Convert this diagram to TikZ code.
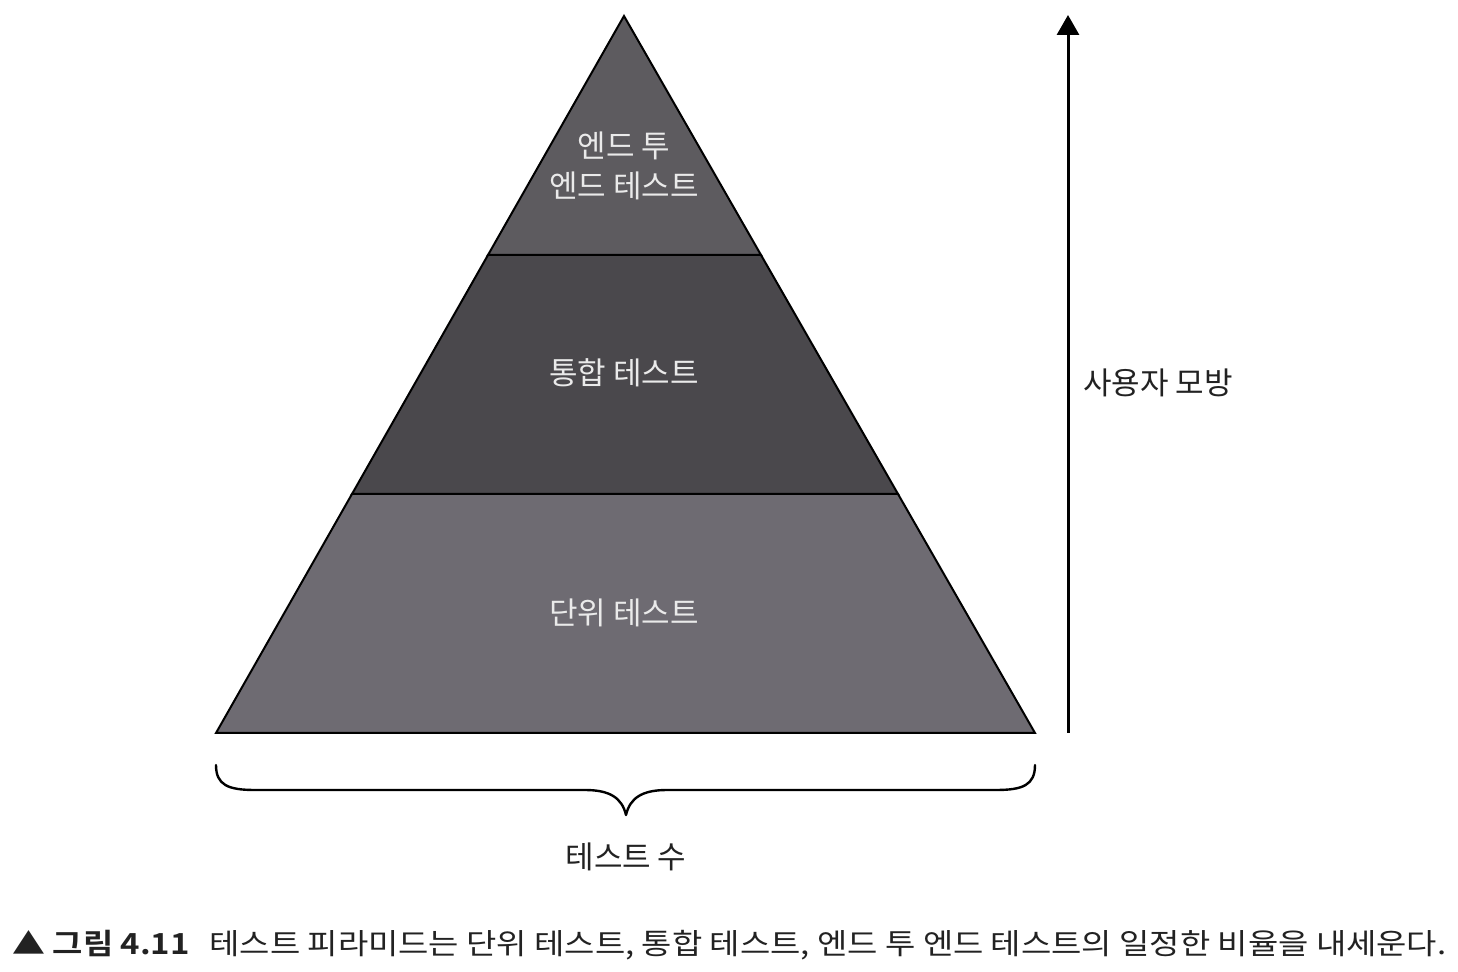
\documentclass[tikz,border=0pt]{standalone}
\usepackage{fontspec}
\setmainfont{Noto Sans CJK KR}[BoldFont={Noto Sans CJK KR Bold}]
\usetikzlibrary{arrows.meta}
\definecolor{tiertop}{HTML}{5D5B5F}
\definecolor{tiermid}{HTML}{4A484C}
\definecolor{tierbot}{HTML}{6E6B72}
\definecolor{labelwhite}{HTML}{EAEAEA}
\definecolor{inktext}{HTML}{222222}
\tikzset{
  tier/.style={draw=black, line width=1pt, line join=miter},
  tierlabel/.style={text=labelwhite, font=\fontsize{15.5}{20}\selectfont, align=center, inner sep=0pt},
  sidelabel/.style={text=inktext, font=\fontsize{15.5}{20}\selectfont, inner sep=0pt},
  axisarrow/.style={draw=black, line width=1.5pt, -{Triangle[width=11pt,length=10pt]}},
  bracestyle/.style={draw=black, line width=1.2pt, line cap=round, line join=round},
}
\begin{document}
\begin{tikzpicture}[x=0.5pt,y=-0.5pt]
\useasboundingbox[fill=white] (0,0) rectangle (1458,972);
% tiers
\path[tier, fill=tierbot] (352,494) -- (898,494) -- (1035,733) -- (216,733) -- cycle;
\path[tier, fill=tiermid] (488,255) -- (761,255) -- (898,494) -- (352,494) -- cycle;
\path[tier, fill=tiertop] (624,16) -- (761,255) -- (488,255) -- cycle;
% labels
\node[tierlabel] (e2e) at (624,166) {엔드 투\\엔드 테스트};
\node[tierlabel] (integ) at (624,373) {통합 테스트};
\node[tierlabel] (unit) at (624,613) {단위 테스트};
% arrow
\coordinate (arrbot) at (1068,733);
\coordinate (arrtop) at (1068,15);
\draw[axisarrow] (arrbot) -- (arrtop);
\node[sidelabel] (mimic) at (1158,383) {사용자 모방};
% brace
\draw[bracestyle] (216,765) .. controls (216,785) and (228,790) .. (255,790) -- (585,790)
  .. controls (610,790) and (622,798) .. (626,815)
  .. controls (630,798) and (642,790) .. (667,790) -- (996,790)
  .. controls (1023,790) and (1035,785) .. (1035,765);
\node[sidelabel] (count) at (626,857) {테스트 수};
% caption
\node[text=inktext, font=\fontsize{14.5}{18}\selectfont, inner sep=0pt, anchor=west] (caption) at (12,945)
  {\resizebox{717pt}{\height}{▲ \textbf{그림 4.11}\hspace{0.6em}테스트 피라미드는 단위 테스트, 통합 테스트, 엔드 투 엔드 테스트의 일정한 비율을 내세운다.}};
\end{tikzpicture}
\end{document}
